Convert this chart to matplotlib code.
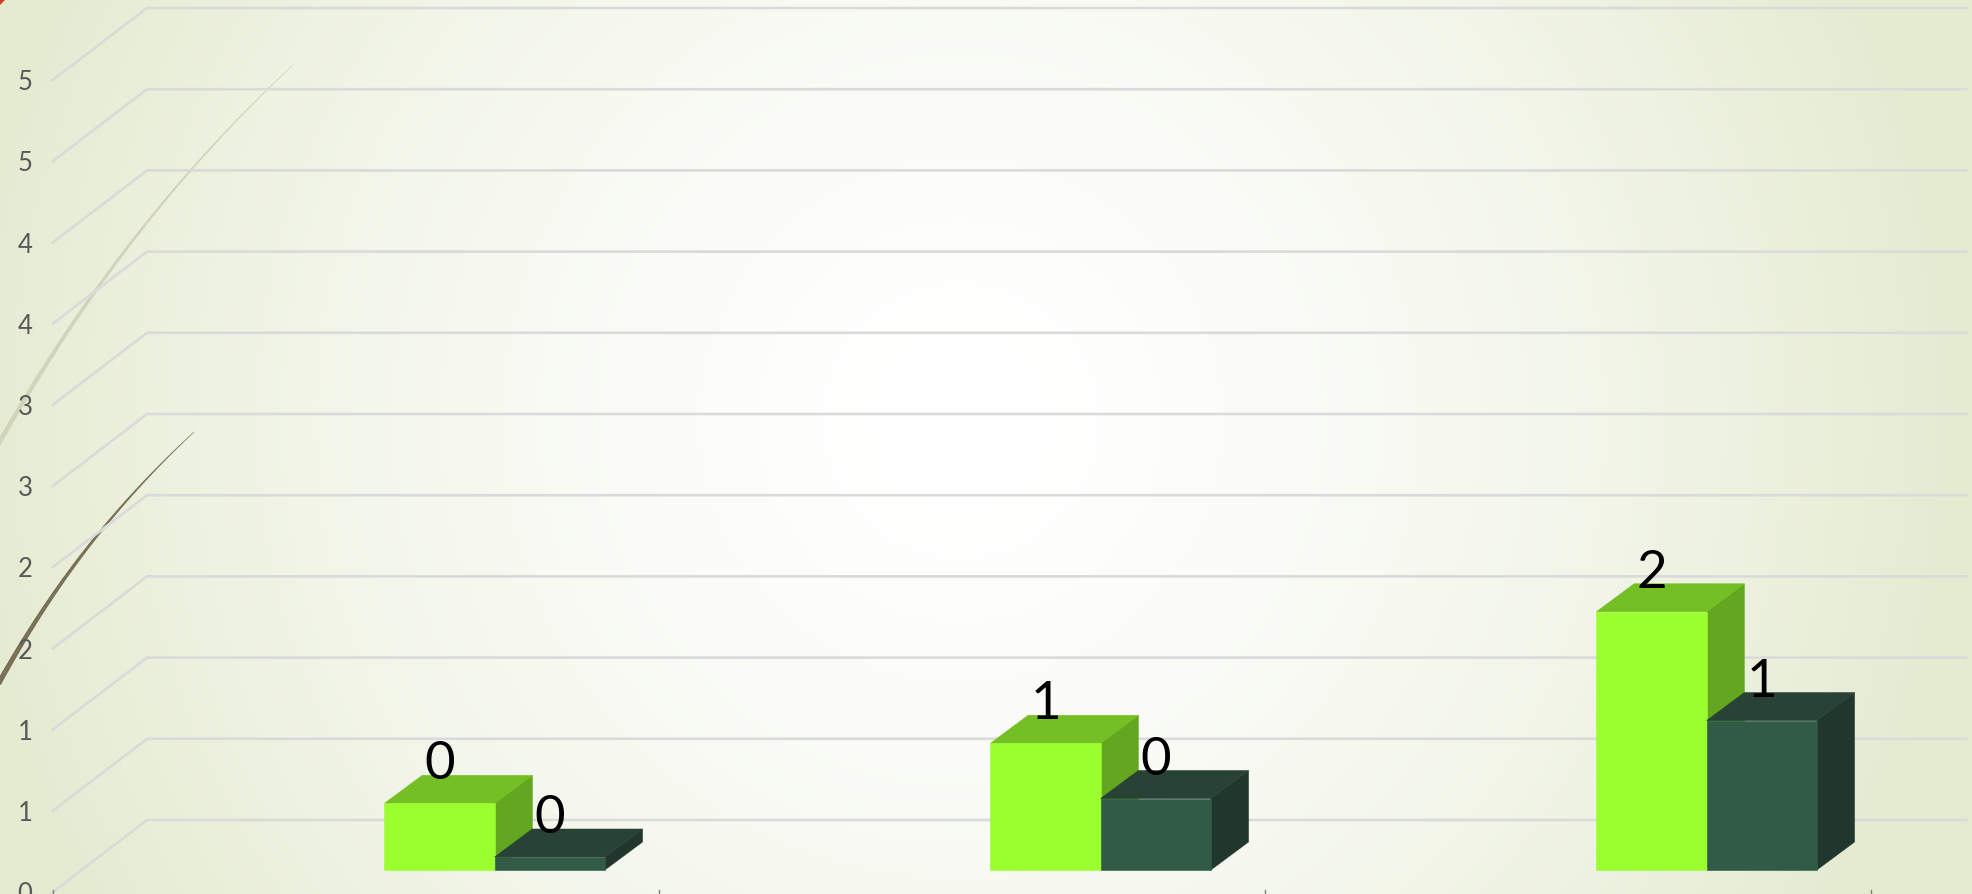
import numpy as np
import matplotlib
matplotlib.use('Agg')
import matplotlib.pyplot as plt
from matplotlib.patches import Polygon
from matplotlib.collections import LineCollection

series_a = [0.41, 0.78, 1.59]
series_b = [0.08, 0.44, 0.92]
label_a = ['0', '1', '2']
label_b = ['0', '0', '1']
y_ticks = [0, 0.5, 1, 1.5, 2, 2.5, 3, 3.5, 4, 4.5, 5]
y_labels = ['0', '1', '1', '2', '2', '3', '3', '4', '4', '5', '5']
x_ticks = [-0.729, 0.271, 1.271, 2.271]

W, H = 1972, 894
px_x = 606.0   # pixels for one category
px_y = 162.4   # pixels for one value unit
bar_w = 110.2 / px_x
dx = 37.7 / px_x
dy = 28.0 / px_y

a_cols = ('#9bff2f', '#73bf24', '#63a61f')
b_cols = ('#315a47', '#284236', '#21372d')


def bar3d(ax, x0, val, cols, z):
    front, top, side = cols
    x1 = x0 + bar_w
    ax.add_patch(Polygon([(x1, 0), (x1 + dx, dy), (x1 + dx, val + dy), (x1, val)],
                         fc=side, ec=side, lw=0.4, zorder=z))
    ax.add_patch(Polygon([(x0, val), (x0 + dx, val + dy), (x1 + dx, val + dy), (x1, val)],
                         fc=top, ec=top, lw=0.4, zorder=z))
    ax.add_patch(Polygon([(x0, 0), (x0, val), (x1, val), (x1, 0)],
                         fc=front, ec=front, lw=0.4, zorder=z))


def swoosh(ax, p0, p1, p2, p3, color, w0, w1):
    # tapered bezier, thin end first
    t = np.linspace(0, 1, 120)[:, None]
    p0, p1, p2, p3 = [np.array(p, dtype=float) for p in (p0, p1, p2, p3)]
    pts = (1 - t)**3 * p0 + 3 * (1 - t)**2 * t * p1 + 3 * (1 - t) * t**2 * p2 + t**3 * p3
    segs = np.stack([pts[:-1], pts[1:]], axis=1)
    lc = LineCollection(segs, colors=color, linewidths=np.linspace(w0, w1, len(segs)),
                        capstyle='round', transform=None, zorder=1)
    ax.add_collection(lc)


fig = plt.figure(figsize=(W / 100, H / 100), dpi=100)
ax = fig.add_axes([0, 0, 1, 1])
ax.axis('off')

xlim = (-494.6 / px_x, (W - 494.6) / px_x)
ylim = ((870 - H) / px_y, 870 / px_y)

# slide background
yy, xx = np.mgrid[0:H, 0:W]
r = np.hypot(xx - 960, yy - 420) / 1000.0
r = np.clip(r, 0, 1)[..., None] ** 1.6
inner = np.array([1.0, 1.0, 1.0])
outer = np.array([0.898, 0.922, 0.820])
ax.imshow(inner * (1 - r) + outer * r, extent=(xlim[0], xlim[1], ylim[0], ylim[1]),
          aspect='auto', zorder=0)
ax.set_xlim(xlim)
ax.set_ylim(ylim)

# decoration curves, in display pixels (y up)
swoosh(ax, (293, H - 65), (170, H - 180), (80, H - 300), (-5, H - 450), '#cfd4bb', 0.4, 3.4)
swoosh(ax, (194, H - 432), (110, H - 510), (50, H - 590), (-5, H - 690), '#7a7257', 0.4, 3.8)
ax.add_patch(Polygon([(0, H), (5, H), (0, H - 5)], transform=None, fc='#c8401c', ec='none', zorder=1))

# walls
front = -22 / px_y
back = 50 / px_y
x_front = x_ticks[0]
x_back = 147 / px_x - 494.6 / px_x
x_end = (1966 - 494.6) / px_x
for v, s in zip(y_ticks, y_labels):
    ax.plot([x_front, x_back, x_end], [v + front, v + back, v + back], color='#dadada',
            lw=1.9, solid_joinstyle='miter', zorder=2)
    ax.annotate(s, (x_front, v + front), xytext=(-20, -2), textcoords='offset points',
                ha='center', va='center', fontsize=18.5, color='#595959', family='Lato',
                zorder=5, annotation_clip=False)

for x in x_ticks:
    ax.plot([x, x], [front + 2 / px_y, front - 4 / px_y], color='#7f7f7f', lw=1, zorder=2)

# bars
for i in range(len(series_a)):
    bar3d(ax, i - bar_w, series_a[i], a_cols, 3 + i * 0.1)
    bar3d(ax, i, series_b[i], b_cols, 3.05 + i * 0.1)
    for x0, val, s in ((i - bar_w, series_a[i], label_a[i]), (i, series_b[i], label_b[i])):
        ax.annotate(s, (x0 + bar_w / 2, val), xytext=(0, 17.3), textcoords='offset points',
                    ha='center', va='baseline', fontsize=38, color='black', family='Lato',
                    zorder=6)

fig.savefig('out.png', dpi=100)
